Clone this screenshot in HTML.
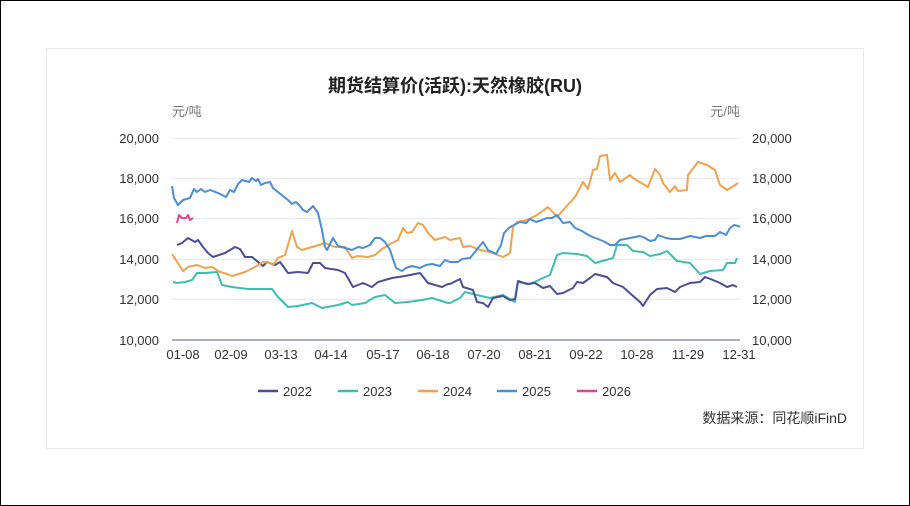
<!DOCTYPE html>
<html><head><meta charset="utf-8"><style>
body{margin:0;width:910px;height:506px;background:#fff;overflow:hidden}
svg{display:block}
text{font-family:"Liberation Sans","Noto Sans CJK SC",sans-serif}
</style></head><body>
<svg width="910" height="506" viewBox="0 0 910 506">
<rect x="0.5" y="0.5" width="909" height="505" fill="#fff" stroke="#000"/>
<rect x="46.5" y="48.5" width="817" height="400" fill="#fff" stroke="#e6e8f4"/>
<text x="455" y="92" text-anchor="middle" font-size="18" font-weight="bold" fill="#222">期货结算价(活跃):天然橡胶(RU)</text>
<text x="172" y="116" font-size="13" fill="#777">元/吨</text>
<text x="740" y="116" font-size="13" fill="#777" text-anchor="end">元/吨</text>
<g stroke="#e8eaf4" stroke-width="1">
<line x1="172" x2="740" y1="138.5" y2="138.5"/><line x1="172" x2="740" y1="178.5" y2="178.5"/>
<line x1="172" x2="740" y1="218.5" y2="218.5"/><line x1="172" x2="740" y1="259.5" y2="259.5"/>
<line x1="172" x2="740" y1="299.5" y2="299.5"/></g>
<line x1="172" x2="740" y1="340" y2="340" stroke="#a7aec4" stroke-width="2"/>
<g font-size="13" fill="#333" text-anchor="end">
<text x="159" y="143">20,000</text><text x="159" y="183">18,000</text><text x="159" y="223">16,000</text>
<text x="159" y="264">14,000</text><text x="159" y="304">12,000</text><text x="159" y="345">10,000</text></g>
<g font-size="13" fill="#333" text-anchor="start">
<text x="752" y="143">20,000</text><text x="752" y="183">18,000</text><text x="752" y="223">16,000</text>
<text x="752" y="264">14,000</text><text x="752" y="304">12,000</text><text x="752" y="345">10,000</text></g>
<g font-size="13" fill="#333" text-anchor="middle">
<text x="183" y="359">01-08</text><text x="231" y="359">02-09</text><text x="281" y="359">03-13</text>
<text x="331" y="359">04-14</text><text x="383" y="359">05-17</text><text x="433" y="359">06-18</text>
<text x="484" y="359">07-20</text><text x="535" y="359">08-21</text><text x="586" y="359">09-22</text>
<text x="637" y="359">10-28</text><text x="688" y="359">11-29</text><text x="739" y="359">12-31</text></g>
<g fill="none" stroke-width="2" stroke-linejoin="round">
<polyline stroke="#3dbfb0" points="173,282 177,283 185,282 192,280 197,273 205,273 217,272 222,285 232,287 248,289 262,289 272,289 278,297 288,307 298,306 312,303 322,308 338,305 348,302 352,305 365,303 375,297 385,295 395,303 408,302 422,300 432,298 448,303 450,303 460,298 465,292 477,295 490,298 503,295 515,302 518,282 530,284 543,278 550,275 557,255 563,253 577,254 587,256 595,263 613,258 617,245 627,245 633,251 643,252 650,256 660,254 667,251 677,261 690,263 700,274 710,271 723,270 727,263 735,263 737,258"/>
<polyline stroke="#4a4f94" points="177,245 182,243 188,238 195,242 198,240 203,247 208,253 213,257 225,253 235,247 240,249 245,257 252,257 258,262 263,266 267,262 275,265 280,262 288,273 298,272 308,273 313,263 320,263 325,268 338,270 345,273 353,287 363,283 372,287 378,282 392,278 405,276 420,273 428,283 442,287 448,284 450,284 460,279 463,287 473,290 477,302 483,303 488,307 493,298 503,296 510,300 515,299 518,281 527,284 535,283 543,288 550,286 557,294 563,293 573,288 577,282 583,283 590,278 595,274 607,277 613,283 623,287 632,295 640,302 643,306 650,295 657,289 667,288 675,292 680,287 690,283 700,282 705,277 713,280 720,283 727,287 733,285 737,287"/>
<polyline stroke="#f0a24e" points="172,254 183,271 188,267 197,265 205,268 212,267 220,272 227,274 232,276 245,272 255,267 263,262 270,263 273,265 278,258 285,255 292,231 297,247 302,250 312,247 325,243 335,247 345,247 352,258 357,256 368,257 375,255 382,249 392,243 398,240 403,228 407,233 412,232 418,223 423,225 428,233 435,240 445,237 450,240 460,238 463,247 470,246 480,250 490,252 503,257 510,253 513,227 517,222 527,220 537,215 548,207 557,217 565,208 575,197 583,182 588,189 593,170 597,169 600,156 607,155 610,180 615,173 620,182 630,175 633,178 648,187 655,169 660,175 663,183 670,192 675,186 678,191 687,190 688,175 698,162 707,165 715,170 720,185 727,190 732,187 738,183"/>
<polyline stroke="#4a8fd6" points="172,186 174,198 178,205 183,200 190,198 194,189 197,192 201,189 205,192 210,190 218,193 226,197 230,190 234,192 238,184 242,180 249,182 252,178 256,181 258,179 261,185 265,183 270,182 273,188 278,192 283,196 288,200 292,204 296,202 300,206 303,210 307,212 313,206 318,213 322,230 325,247 327,250 330,244 333,238 338,246 345,248 352,250 358,247 363,248 370,245 375,238 380,238 385,242 390,250 396,268 402,271 406,268 412,266 420,268 426,265 432,264 440,266 445,260 450,262 458,262 462,259 470,258 475,252 478,248 483,242 488,250 492,252 496,254 501,245 504,233 509,228 512,226 520,222 526,223 530,219 536,222 542,220 547,218 552,218 557,215 563,223 570,222 575,228 582,231 590,236 598,239 605,242 610,245 615,245 620,240 625,239 640,236 645,238 650,241 655,240 658,235 666,238 672,239 680,239 690,236 695,237 700,238 706,236 715,236 720,232 726,235 730,228 734,225 738,226 740,227"/>
<polyline stroke="#e0458f" points="177,223 179,215 182,218 186,218 188,215 190,220 193,218"/>
</g>
<g stroke-width="2.5">
<line x1="258" x2="278" y1="391" y2="391" stroke="#4a4f94"/>
<line x1="338" x2="358" y1="391" y2="391" stroke="#3dbfb0"/>
<line x1="418" x2="438" y1="391" y2="391" stroke="#f0a24e"/>
<line x1="497" x2="517" y1="391" y2="391" stroke="#4a8fd6"/>
<line x1="577" x2="597" y1="391" y2="391" stroke="#e0458f"/></g>
<g font-size="13" fill="#333">
<text x="283" y="396">2022</text><text x="363" y="396">2023</text><text x="443" y="396">2024</text>
<text x="522" y="396">2025</text><text x="602" y="396">2026</text></g>
<text x="847" y="423" font-size="14" fill="#333" text-anchor="end">数据来源：同花顺iFinD</text>
</svg>
</body></html>
